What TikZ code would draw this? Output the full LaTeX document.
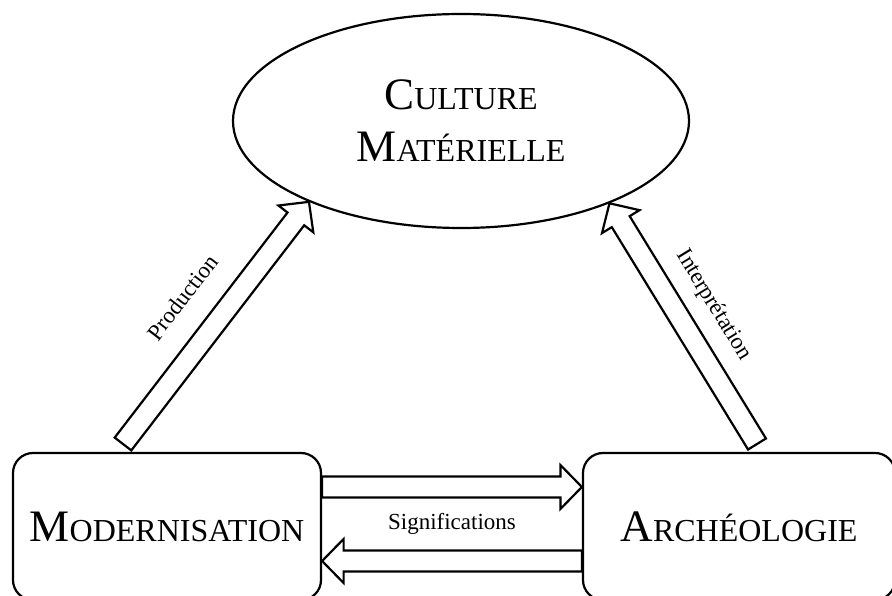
\documentclass[tikz,border=0pt]{standalone}
\usepackage{fontspec}
\setmainfont{Liberation Serif}
\usetikzlibrary{calc,shapes.geometric}

% big capital followed by smaller capitals
\newcommand{\fsc}[2]{{\fontsize{45}{52}\selectfont #1}{\fontsize{32}{52}\selectfont #2}}

% outlined block arrow from #1 to #2
\newcommand{\blockarrow}[2]{%
    \coordinate (hb) at ($(#2)!21.5pt!(#1)$);
    \draw[blockline] ($(#1)!10.5pt!90:(#2)$) -- ($(hb)!10.5pt!90:(#2)$) -- ($(hb)!22pt!90:(#2)$)
        -- (#2) -- ($(hb)!22pt!-90:(#2)$) -- ($(hb)!10.5pt!-90:(#2)$) -- ($(#1)!10.5pt!-90:(#2)$) -- cycle;
}

\tikzset{
    blockline/.style={line width=2.2pt, line join=miter, fill=white},
    roundbox/.style={draw, line width=2.2pt, rounded corners=20pt, inner sep=0pt},
    smalltext/.style={font=\fontsize{23}{26}\selectfont, inner sep=0pt}
}

\begin{document}
\begin{tikzpicture}[x=1pt, y=-1pt, line width=2.2pt]
            \clip (0,0) rectangle (892,596);
            \fill[white] (0,0) rectangle (892,596);

            % The ellipse
            \node[draw, ellipse, line width=2.2pt, minimum width=456pt, minimum height=214pt, inner sep=0pt,
                align=center, font=\fontsize{45}{52}\selectfont] (culture) at (461,121)
                {\fsc{C}{ULTURE}\\\fsc{M}{ATÉRIELLE}};

            % The two boxes
            \node[roundbox, minimum width=308pt, minimum height=147pt] (modbox) at (167,526.5)
                {\fsc{M}{ODERNISATION}};
            \node[roundbox, minimum width=312pt, minimum height=147pt] (archbox) at (739,526.5)
                {\fsc{A}{RCHÉOLOGIE}};

            % Arrow ends
            \coordinate (prodtail) at (123,444);
            \coordinate (prodtip) at (culture.208.5);
            \coordinate (interptail) at (757,444);
            \coordinate (interptip) at (culture.331.2);
            \coordinate (goA) at ($(modbox.east)+(0,-39.5)$);
            \coordinate (goB) at ($(archbox.west)+(0,-39.5)$);
            \coordinate (backA) at ($(archbox.west)+(0,34.5)$);
            \coordinate (backB) at ($(modbox.east)+(0,34.5)$);

            % Arrows
            \blockarrow{prodtail}{prodtip}
            \blockarrow{interptail}{interptip}
            \blockarrow{goA}{goB}
            \blockarrow{backA}{backB}

            % Labels
            \path (prodtail) -- (prodtip) node[smalltext, midway, sloped, above=33pt] {Production};
            \path (interptip) -- (interptail) node[smalltext, midway, sloped, above=24pt] {Interprétation};
            \node[smalltext] (signif) at ($(modbox.east)!0.5!(archbox.west)+(0,-3)$) {Significations};

        \end{tikzpicture}
\end{document}
